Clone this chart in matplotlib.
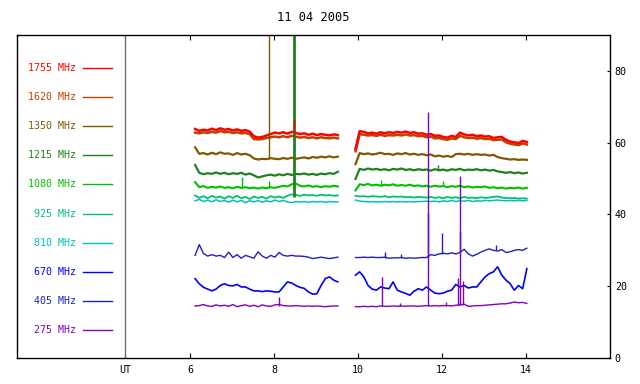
import numpy as np
import matplotlib
matplotlib.use("Agg")
import matplotlib.pyplot as plt

plt.rcParams['font.family'] = ['DejaVu Sans Mono']
plt.rcParams['font.size'] = 7.2

# --- donnees ---
titre = "11 04 2005"
freqs = ["1755", "1620", "1350", "1215", "1080", "925", "810", "670", "405", "275"]
couleurs = ["#ff0000", "#c04000", "#805800", "#208020", "#00c000",
            "#00c070", "#00c0c0", "#0000ff", "#2020c0", "#8000c0"]

# deux segments de mesure (heures UT)
t_a = np.linspace(6.12, 9.52, 35)
t_b = np.linspace(9.94, 14.02, 42)

f1755_a = [63.8, 63.3, 63.6, 63.4, 63.9, 63.5, 64.0, 63.6, 63.8, 63.4,
           63.7, 63.3, 63.5, 63.1, 61.8, 61.4, 61.6, 62.0, 62.4, 62.8,
           62.6, 62.9, 62.5, 63.0, 62.7, 62.4, 62.6, 62.2, 62.5, 62.1,
           62.4, 62.2, 62.0, 62.3, 62.1]
f1755_b = [58.3, 63.2, 63.0, 62.6, 62.8, 62.5, 62.9, 62.6, 62.9, 62.7,
           63.0, 62.8, 63.1, 62.7, 62.9, 62.5, 62.6, 62.2, 62.4, 61.9,
           62.0, 61.6, 61.4, 61.9, 61.6, 62.8, 62.3, 62.0, 62.2, 61.8,
           62.0, 61.7, 61.8, 61.3, 61.5, 61.6, 60.8, 60.3, 60.1, 59.9,
           60.5, 60.2]
f1620_a = [62.8, 62.6, 62.9, 62.7, 63.0, 62.8, 63.2, 62.9, 63.0, 62.7,
           62.9, 62.6, 62.7, 62.4, 61.0, 60.9, 61.0, 61.3, 61.5, 61.7,
           61.5, 61.8, 61.5, 61.9, 61.7, 61.4, 61.6, 61.3, 61.5, 61.2,
           61.5, 61.3, 61.2, 61.4, 61.2]
f1620_b = [57.6, 62.4, 62.2, 62.0, 62.1, 61.9, 62.2, 61.9, 62.1, 62.0,
           62.2, 62.0, 62.3, 62.0, 62.1, 61.8, 61.9, 61.5, 61.7, 61.2,
           61.3, 61.0, 60.8, 61.2, 61.0, 61.9, 61.5, 61.3, 61.4, 61.1,
           61.3, 61.0, 61.1, 60.7, 60.8, 60.9, 60.1, 59.7, 59.5, 59.3,
           59.8, 59.5]
f1350_a = [58.7, 56.9, 57.1, 56.7, 57.2, 56.8, 57.3, 56.9, 57.0, 56.6,
           57.1, 56.7, 56.9, 56.5, 55.6, 55.3, 55.5, 55.4, 55.7, 55.5,
           55.4, 55.7, 55.5, 55.8, 55.5, 55.7, 55.9, 55.6, 56.0, 55.8,
           56.1, 55.9, 56.2, 55.9, 56.1]
f1350_b = [54.0, 57.1, 56.8, 57.0, 56.7, 56.9, 57.2, 56.8, 56.9, 56.6,
           57.0, 56.8, 57.1, 56.7, 56.9, 56.6, 56.8, 56.5, 56.7, 56.2,
           56.4, 56.1, 56.3, 56.0, 56.8, 56.9, 56.7, 56.9, 56.6, 56.8,
           56.6, 56.7, 56.4, 56.6, 56.0, 55.7, 55.5, 55.3, 55.4, 55.2,
           55.3, 55.2]
f1215_a = [53.8, 51.6, 51.2, 51.5, 51.3, 51.7, 51.3, 51.6, 51.2, 51.5,
           51.3, 51.6, 51.1, 51.4, 50.9, 50.3, 50.6, 50.9, 51.1, 50.8,
           51.2, 50.9, 51.3, 51.0, 51.3, 51.2, 51.4, 51.1, 51.3, 51.0,
           51.4, 51.2, 51.5, 51.3, 51.9]
f1215_b = [49.9, 52.7, 52.4, 52.8, 52.5, 52.7, 52.4, 52.6, 52.3, 52.7,
           52.5, 52.8, 52.4, 52.6, 52.3, 52.6, 52.4, 52.5, 52.2, 52.6,
           52.3, 52.5, 52.2, 52.6, 52.4, 52.7, 52.3, 52.5, 52.4, 52.6,
           52.3, 52.5, 52.2, 52.4, 52.0, 51.8, 51.6, 51.8, 51.5, 51.7,
           51.4, 51.6]
f1080_a = [49.0, 47.6, 47.9, 47.4, 47.7, 47.5, 47.8, 47.4, 47.6, 47.3,
           47.7, 47.4, 47.6, 47.3, 47.5, 47.2, 47.5, 47.3, 47.6, 47.4,
           47.7, 48.0, 47.8, 48.4, 48.6, 48.0, 47.8, 48.1, 47.7, 47.9,
           47.6, 47.9, 47.7, 48.0, 47.8]
f1080_b = [46.7, 48.4, 48.2, 48.5, 48.1, 48.3, 48.0, 48.3, 48.1, 48.4,
           48.0, 48.2, 48.0, 48.3, 47.9, 48.1, 47.8, 48.0, 47.7, 48.0,
           47.8, 47.9, 47.6, 47.9, 47.7, 48.0, 47.6, 47.8, 47.5, 47.7,
           47.6, 47.8, 47.4, 47.6, 47.3, 47.5, 47.2, 47.4, 47.3, 47.5,
           47.2, 47.4]
f925_a = [45.3, 44.6, 45.1, 44.5, 45.2, 44.7, 45.0, 44.4, 45.1, 44.6,
          45.2, 44.5, 44.9, 44.3, 45.0, 44.6, 44.9, 44.4, 45.1, 44.7,
          45.0, 44.6, 45.2, 45.6, 45.4, 45.2, 45.5, 45.3, 45.4, 45.2,
          45.5, 45.3, 45.4, 45.2, 45.3]
f925_b = [45.2, 45.0, 45.1, 44.9, 45.1, 45.0, 44.9, 45.1, 44.8, 45.0,
          44.9, 45.0, 44.8, 44.9, 44.7, 44.9, 44.8, 44.7, 44.9, 44.6,
          44.8, 44.5, 44.9, 44.6, 44.8, 44.5, 44.9, 44.6, 44.7, 44.5,
          44.8, 44.6, 44.7, 44.9, 45.0, 44.7, 44.6, 44.5, 44.6, 44.4,
          44.5, 44.4]
f810_a = [43.8, 44.2, 43.6, 44.0, 43.5, 44.1, 43.6, 43.9, 43.4, 44.0,
          43.5, 43.9, 43.3, 43.8, 43.5, 43.9, 43.4, 43.8, 43.5, 44.0,
          43.6, 43.9, 43.5, 43.3, 43.6, 43.5, 43.6, 43.4, 43.6, 43.5,
          43.6, 43.4, 43.6, 43.5, 43.5]
f810_b = [44.0, 43.7, 43.6, 43.5, 43.6, 43.5, 43.5, 43.6, 43.5, 43.6,
          43.5, 43.6, 43.5, 43.6, 43.5, 43.6, 43.6, 43.7, 43.6, 43.7,
          43.5, 43.8, 43.6, 43.9, 43.6, 43.8, 43.7, 43.9, 43.6, 43.8,
          43.7, 43.9, 43.8, 43.9, 44.0, 43.9, 43.8, 43.9, 43.8, 43.9,
          43.8, 43.9]
f670_a = [22.1, 20.7, 19.7, 19.2, 18.7, 19.2, 20.2, 20.7, 20.2, 20.1,
          20.5, 19.8, 19.8, 19.2, 18.7, 18.7, 18.5, 18.7, 18.6, 18.4,
          18.4, 19.8, 21.2, 20.9, 20.2, 19.7, 19.4, 18.4, 17.8, 17.9,
          20.2, 22.1, 22.6, 21.7, 21.2]
f670_b = [23.1, 24.0, 22.6, 20.2, 19.2, 18.9, 19.8, 19.5, 19.3, 21.2,
          18.9, 18.4, 18.0, 17.5, 18.6, 19.3, 18.9, 19.8, 18.9, 18.1,
          17.9, 18.1, 18.6, 18.9, 20.5, 19.8, 20.2, 19.5, 19.8, 19.8,
          21.2, 22.6, 23.5, 24.0, 25.4, 23.1, 21.7, 20.7, 18.9, 20.2,
          19.3, 24.9]
f405_a = [28.6, 31.6, 29.1, 28.4, 28.8, 28.4, 28.6, 28.0, 29.5, 28.0,
          28.8, 27.8, 28.6, 28.2, 27.8, 29.6, 28.4, 27.8, 28.6, 28.1,
          29.4, 28.6, 28.4, 28.6, 28.4, 28.4, 28.3, 28.1, 27.7, 27.9,
          28.1, 27.9, 27.7, 27.9, 28.1]
f405_b = [28.0, 28.0, 28.1, 28.0, 28.1, 28.0, 28.0, 28.1, 27.8, 27.9,
          27.9, 28.0, 27.8, 27.9, 27.8, 27.9, 28.0, 28.0, 28.8, 28.6,
          29.0, 29.2, 29.0, 29.3, 29.0, 29.4, 30.3, 29.0, 28.4, 28.9,
          29.5, 30.0, 30.4, 30.0, 29.8, 30.2, 29.4, 29.6, 30.0, 30.2,
          30.0, 30.6]
f275_a = [14.5, 14.6, 14.9, 14.5, 14.4, 14.8, 14.5, 14.7, 14.4, 14.9,
          14.3, 14.6, 14.8, 14.4, 14.7, 14.3, 14.8, 14.5, 14.4, 14.8,
          14.9, 14.6, 14.5, 14.5, 14.6, 14.5, 14.4, 14.5, 14.4, 14.5,
          14.4, 14.3, 14.4, 14.5, 14.5]
f275_b = [14.3, 14.3, 14.4, 14.3, 14.4, 14.3, 14.5, 14.4, 14.4, 14.5,
          14.4, 14.5, 14.4, 14.5, 14.5, 14.4, 14.5, 14.6, 14.5, 14.6,
          14.5, 14.6, 14.6, 14.5, 14.7, 14.8, 15.0, 14.4, 14.5, 14.6,
          14.6, 14.7, 14.8, 14.9, 15.0, 15.1, 15.1, 15.3, 15.6, 15.4,
          15.5, 15.2]

seg_a = [f1755_a, f1620_a, f1350_a, f1215_a, f1080_a, f925_a, f810_a, f670_a, f405_a, f275_a]
seg_b = [f1755_b, f1620_b, f1350_b, f1215_b, f1080_b, f925_b, f810_b, f670_b, f405_b, f275_b]

# parasites (index canal, heure, bas, haut)
pic_canal = [2, 3, 0, 4, 4, 4, 4, 3, 8, 8, 8, 8, 8, 8, 9, 9, 9, 9, 9, 9, 9, 9]
pic_t = [7.88, 8.48, 8.48, 7.23, 7.87, 10.54, 12.03, 11.90, 10.64, 11.03, 11.66, 12.00, 12.44, 13.28,
         8.13, 10.56, 11.66, 12.37, 12.43, 12.50, 11.00, 12.10]
pic_bas = [55.5, 45.0, 62.7, 47.3, 47.3, 48.0, 47.8, 52.5, 28.0, 27.9, 28.0, 29.0, 29.4, 30.0,
           14.6, 14.4, 14.5, 14.7, 14.7, 14.8, 14.4, 14.6]
pic_haut = [95, 95, 66.5, 50.4, 49.4, 49.6, 49.4, 53.8, 29.6, 29.1, 40.3, 34.8, 35.5, 31.5,
            17.1, 22.6, 68.6, 22.3, 50.6, 21.5, 15.3, 15.5]

# --- figure ---
fig, ax = plt.subplots(figsize=(6.4, 3.84), dpi=100)
fig.subplots_adjust(left=17/640, right=610/640, bottom=26/384, top=349/384)

lw_canal = [1.8, 1.8, 1.6, 1.6, 1.5, 1.3, 1.1, 1.2, 1.0, 1.0]
ordre = [1, 0, 2, 3, 4, 5, 6, 7, 8, 9]
for i in ordre:
    ax.plot(t_a, seg_a[i], color=couleurs[i], lw=lw_canal[i])
    ax.plot(t_b, seg_b[i], color=couleurs[i], lw=lw_canal[i])

for c, t, lo, hi in zip(pic_canal, pic_t, pic_bas, pic_haut):
    ax.vlines(t, lo, hi, color=couleurs[c], lw=2.0 if (c == 3 and hi > 90) else 1.0)

# legende a gauche
for i, f in enumerate(freqs):
    y = 80.75 - 8.1 * i
    ax.text(3.29, y, f + " MHz", color=couleurs[i], ha='right', va='center')
    ax.plot([3.45, 4.14], [y, y], color=couleurs[i], lw=1)

# ligne UT
ax.axvline(4.45, color='#707070', lw=1)

ax.set_xlim(1.88, 16.0)
ax.set_ylim(0, 90)
ax.set_xticks([4.45, 6, 8, 10, 12, 14])
ax.set_xticklabels(['UT', '6', '8', '10', '12', '14'])
ax.set_yticks([0, 20, 40, 60, 80])
ax.yaxis.tick_right()
ax.tick_params(axis='x', direction='in', top=True, bottom=True, length=3.5, pad=5)
ax.tick_params(axis='y', direction='in', left=False, right=True, length=2.5, pad=3.5)
for s in ax.spines.values():
    s.set_linewidth(1.0)

ax.set_title(titre, pad=10)

fig.savefig("out.png", dpi=100)
